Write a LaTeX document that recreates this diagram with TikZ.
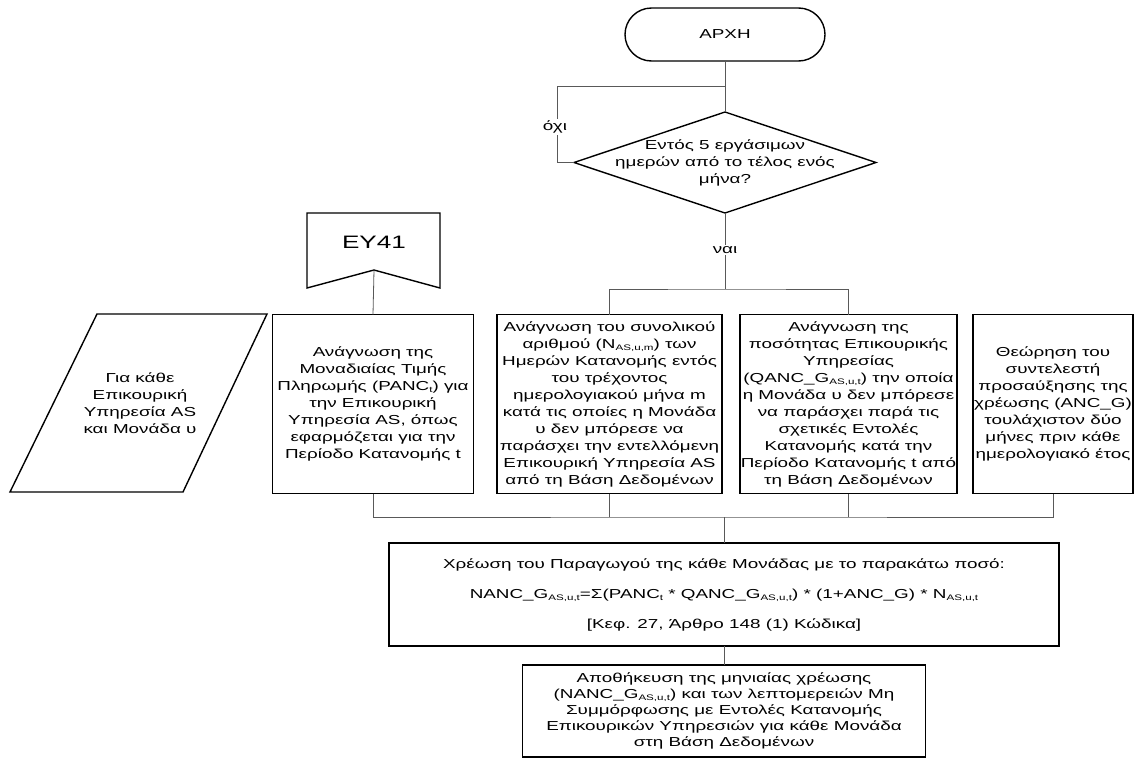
\documentclass[tikz,border=0pt]{standalone}
\usepackage{fontspec}
\setmainfont{Liberation Sans}[FakeStretch=1.45]
\usetikzlibrary{shapes.geometric,shapes.misc}

% small lowered index used in the formulas
\newcommand\subx[1]{\raisebox{-0.35ex}{\fontsize{8}{8}\selectfont #1}}

\begin{document}
\begin{tikzpicture}[x=1pt,y=-1pt,
  txt/.style={font=\fontsize{13}{17}\selectfont, align=center, inner sep=0pt},
  outline/.style={draw=black, line width=1.4pt, line join=miter},
  stepbox/.style={outline, rectangle, inner sep=0pt, outer sep=0pt, txt},
  conn/.style={draw=black!65, line width=0.8pt},
  lbl/.style={txt, fill=white, inner sep=1.5pt}]
\useasboundingbox (0,0) rectangle (1143,758);

% start terminal and decision
\node[outline, rounded rectangle, minimum width=200pt, minimum height=53pt,
      inner sep=0pt, outer sep=0pt, txt] (start) at (725,34.5) {ΑΡΧΗ};
\node[outline, diamond, minimum width=302pt, minimum height=101pt,
      inner sep=0pt, outer sep=0pt] (dec) at (725,162.5) {};
\node[txt] (dectext) at (725,163) {Εντός 5 εργάσιμων\\ημερών από το τέλος ενός\\μήνα?};

% off-page reference
\coordinate (ey41tip) at (374,270);
\draw[outline] (307,213) -- (440,213) -- (440,288) -- (ey41tip) -- (307,288) -- cycle;
\node[txt, font=\fontsize{18}{18}\selectfont] (ey41) at (374,242) {ΕΥ41};

% loop input
\draw[outline] (97,314) -- (267,314) -- (183,492) -- (10,492) -- cycle;
\node[txt] (foreach) at (140,403) {Για κάθε\\Επικουρική\\Υπηρεσία AS\\και Μονάδα υ};

% reading steps
\node[stepbox, minimum width=201pt, minimum height=179pt] (price) at (373,404)
  {Ανάγνωση της\\Μοναδιαίας Τιμής\\Πληρωμής (PANC\subx{t}) για\\την Επικουρική\\Υπηρεσία AS, όπως\\εφαρμόζεται για την\\Περίοδο Κατανομής t};
\node[stepbox, minimum width=225pt, minimum height=179pt] (count) at (609.5,404)
  {Ανάγνωση του συνολικού\\αριθμού (N\subx{AS,u,m}) των\\Ημερών Κατανομής εντός\\του τρέχοντος\\ημερολογιακού μήνα m\\κατά τις οποίες η Μονάδα\\υ δεν μπόρεσε να\\παράσχει την εντελλόμενη\\Επικουρική Υπηρεσία AS\\από τη Βάση Δεδομένων};
\node[stepbox, minimum width=217pt, minimum height=179pt] (qty) at (848.5,404)
  {Ανάγνωση της\\ποσότητας Επικουρικής\\Υπηρεσίας\\(QANC\_G\subx{AS,u,t}) την οποία\\η Μονάδα υ δεν μπόρεσε\\να παράσχει παρά τις\\σχετικές Εντολές\\Κατανομής κατά την\\Περίοδο Κατανομής t από\\τη Βάση Δεδομένων};
\node[stepbox, minimum width=160pt, minimum height=179pt] (factor) at (1053,404)
  {Θεώρηση του\\συντελεστή\\προσαύξησης της\\χρέωσης (ANC\_G)\\τουλάχιστον δύο\\μήνες πριν κάθε\\ημερολογιακό έτος};

% charge and store
\node[stepbox, minimum width=670pt, minimum height=103pt,
      font=\fontsize{13}{30}\selectfont] (charge) at (724,594.5)
  {Χρέωση του Παραγωγού της κάθε Μονάδας με το παρακάτω ποσό:\\
   NANC\_G\subx{AS,u,t}=Σ(PANC\subx{t} * QANC\_G\subx{AS,u,t}) * (1+ANC\_G) * N\subx{AS,u,t}\\
   {[}Κεφ. 27, Άρθρο 148 (1) Κώδικα{]}};
\node[stepbox, minimum width=403pt, minimum height=92pt,
      font=\fontsize{13}{16}\selectfont] (store) at (724,711)
  {Αποθήκευση της μηνιαίας χρέωσης\\(NANC\_G\subx{AS,u,t}) και των λεπτομερειών Μη\\Συμμόρφωσης με Εντολές Κατανομής\\Επικουρικών Υπηρεσιών για κάθε Μονάδα\\στη Βάση Δεδομένων};

% connectors
\coordinate (loopin) at (725,86);
\coordinate (split) at (725,289);
\coordinate (merge) at (724,517);
\draw[conn] (start.south) -- (dec.north);
\draw[conn] (dec.west) -- ++(-17,0) |- (loopin);
\draw[conn] (dec.south) -- (split);
\draw[conn] (count.north) |- (split) -| (qty.north);
\draw[conn] (ey41tip) -- (price.north);
\draw[conn] (price.south) |- (merge) -| (factor.south);
\draw[conn] (count.south) -- (count.south |- merge);
\draw[conn] (qty.south) -- (qty.south |- merge);
\draw[conn] (merge) -- (charge.north);
\draw[conn] (charge.south) -- (store.north);

% branch labels
\node[lbl] (no) at (555,127) {όχι};
\node[lbl] (yes) at (725,250) {ναι};
\end{tikzpicture}
\end{document}
